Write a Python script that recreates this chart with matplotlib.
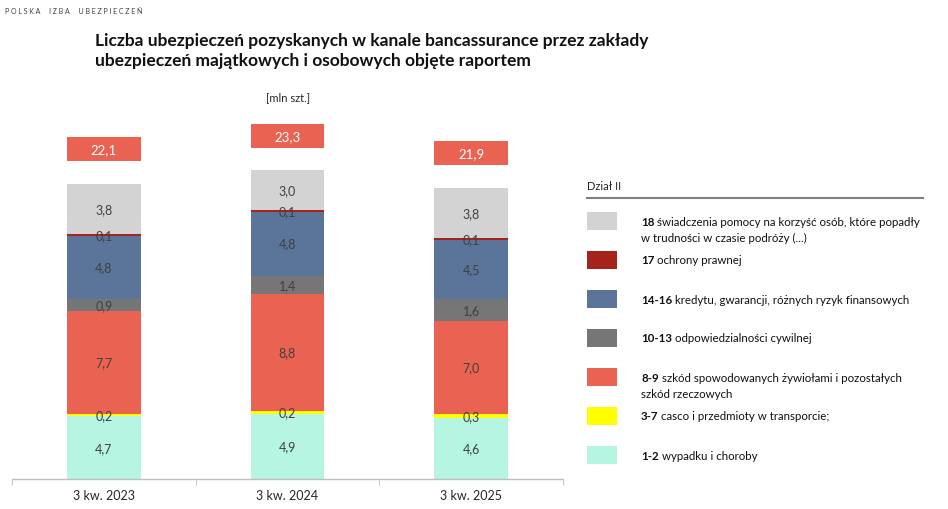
import matplotlib
matplotlib.use("Agg")
import matplotlib.pyplot as plt
from matplotlib.patches import Rectangle
import numpy as np

plt.rcParams["font.family"] = ["Lato", "DejaVu Sans"]

W, H = 948, 510

periods = ["3 kw. 2023", "3 kw. 2024", "3 kw. 2025"]
totals = ["22,1", "23,3", "21,9"]

# bottom to top
grp_1_2 = [4.7, 4.9, 4.6]
grp_3_7 = [0.2, 0.2, 0.3]
grp_8_9 = [7.7, 8.8, 7.0]
grp_10_13 = [0.9, 1.4, 1.6]
grp_14_16 = [4.8, 4.8, 4.5]
grp_17 = [0.1, 0.1, 0.1]
grp_18 = [3.8, 3.0, 3.8]

series = [grp_1_2, grp_3_7, grp_8_9, grp_10_13, grp_14_16, grp_17, grp_18]
colors = ["#b5f5e1", "#ffff00", "#e96252", "#767676", "#5b7499", "#a5231b", "#d3d3d3"]

legend_bold = ["18", "17", "14-16", "10-13", "8-9", "3-7", "1-2"]
legend_text = [
    ["świadczenia pomocy na korzyść osób, które popadły", "w trudności w czasie podróży (...)"],
    ["ochrony prawnej"],
    ["kredytu, gwarancji, różnych ryzyk finansowych"],
    ["odpowiedzialności cywilnej"],
    ["szkód spowodowanych żywiołami i pozostałych", "szkód rzeczowych"],
    ["casco i przedmioty w transporcie;"],
    ["wypadku i choroby"],
]
legend_colors = colors[::-1]


def px(x, y):
    # figure pixel position -> figure fraction
    return x / W, 1 - y / H


fig = plt.figure(figsize=(W / 100, H / 100), dpi=100)
ax_l, ax_r, ax_b, ax_t = 12, 563, 480, 100
ax = fig.add_axes([ax_l / W, 1 - ax_b / H, (ax_r - ax_l) / W, (ax_b - ax_t) / H])
unit = 13.3
ax.set_ylim(0, (ax_b - ax_t) / unit)
ax.set_xlim(-0.5, 2.5)

x = np.arange(len(periods))
bottom = np.zeros(len(periods))
for vals, col in zip(series, colors):
    vals = np.array(vals)
    ax.bar(x, vals, width=0.4, bottom=bottom, color=col, edgecolor="none")
    for xi, b, v in zip(x, bottom, vals):
        ax.text(xi, b + v / 2, f"{v:.1f}".replace(".", ","), ha="center", va="center",
                fontsize=9, color="#404040")
    bottom += vals

for xi, top, lab in zip(x, bottom, totals):
    yc = top + 2.6
    ax.add_patch(Rectangle((xi - 0.2, yc - 0.9), 0.4, 1.8, facecolor="#e96252", edgecolor="none"))
    ax.text(xi, yc, lab, ha="center", va="center", fontsize=9.5, color="white")

for s in ["top", "right", "left"]:
    ax.spines[s].set_visible(False)
ax.spines["bottom"].set_color("#bfbfbf")
ax.spines["bottom"].set_linewidth(1.0)
ax.set_yticks([])
ax.set_xticks(x)
ax.set_xticklabels(periods, fontsize=9, color="#262626")
ax.tick_params(axis="x", length=0, pad=7)
ax.set_xticks([-0.5, 0.5, 1.5, 2.5], minor=True)
ax.tick_params(axis="x", which="minor", length=4, color="#bfbfbf", direction="out")

# header texts
fig.text(*px(5, 11), "P O L S K A     I Z B A     U B E Z P I E C Z E Ń", fontsize=5,
         color="#404040", va="center", ha="left")
fig.text(*px(95, 41), "Liczba ubezpieczeń pozyskanych w kanale bancassurance przez zakłady",
         fontsize=12.5, fontweight="bold", color="#111111", va="center", ha="left")
fig.text(*px(95, 61), "ubezpieczeń majątkowych i osobowych objęte raportem",
         fontsize=12.5, fontweight="bold", color="#111111", va="center", ha="left")
fig.text(*px(288, 98), "[mln szt.]", fontsize=8, color="#262626", va="center", ha="center")

# legend
fig.text(*px(587, 187), "Dział II", fontsize=8, color="#262626", va="center", ha="left")
fig.add_artist(plt.Line2D([587 / W, 923 / W], [1 - 199 / H] * 2, color="#7f7f7f", lw=1.5))
for i, (b, lines, col) in enumerate(zip(legend_bold, legend_text, legend_colors)):
    yc = 222 + 39 * i
    fig.add_artist(Rectangle(px(587, yc + 9), 30 / W, 18 / H, facecolor=col, edgecolor="none"))
    t = fig.text(*px(641, yc), b, fontsize=8.3, fontweight="bold", color="#111111",
                 va="center", ha="left")
    ax.annotate(" " + lines[0], xy=(1, 0.5), xycoords=t, va="center", ha="left",
                fontsize=8.3, color="#111111", annotation_clip=False)
    for j, extra in enumerate(lines[1:], start=1):
        fig.text(*px(641, yc + 16 * j), extra, fontsize=8.3, color="#111111",
                 va="center", ha="left")

fig.savefig("out.png", dpi=100)
